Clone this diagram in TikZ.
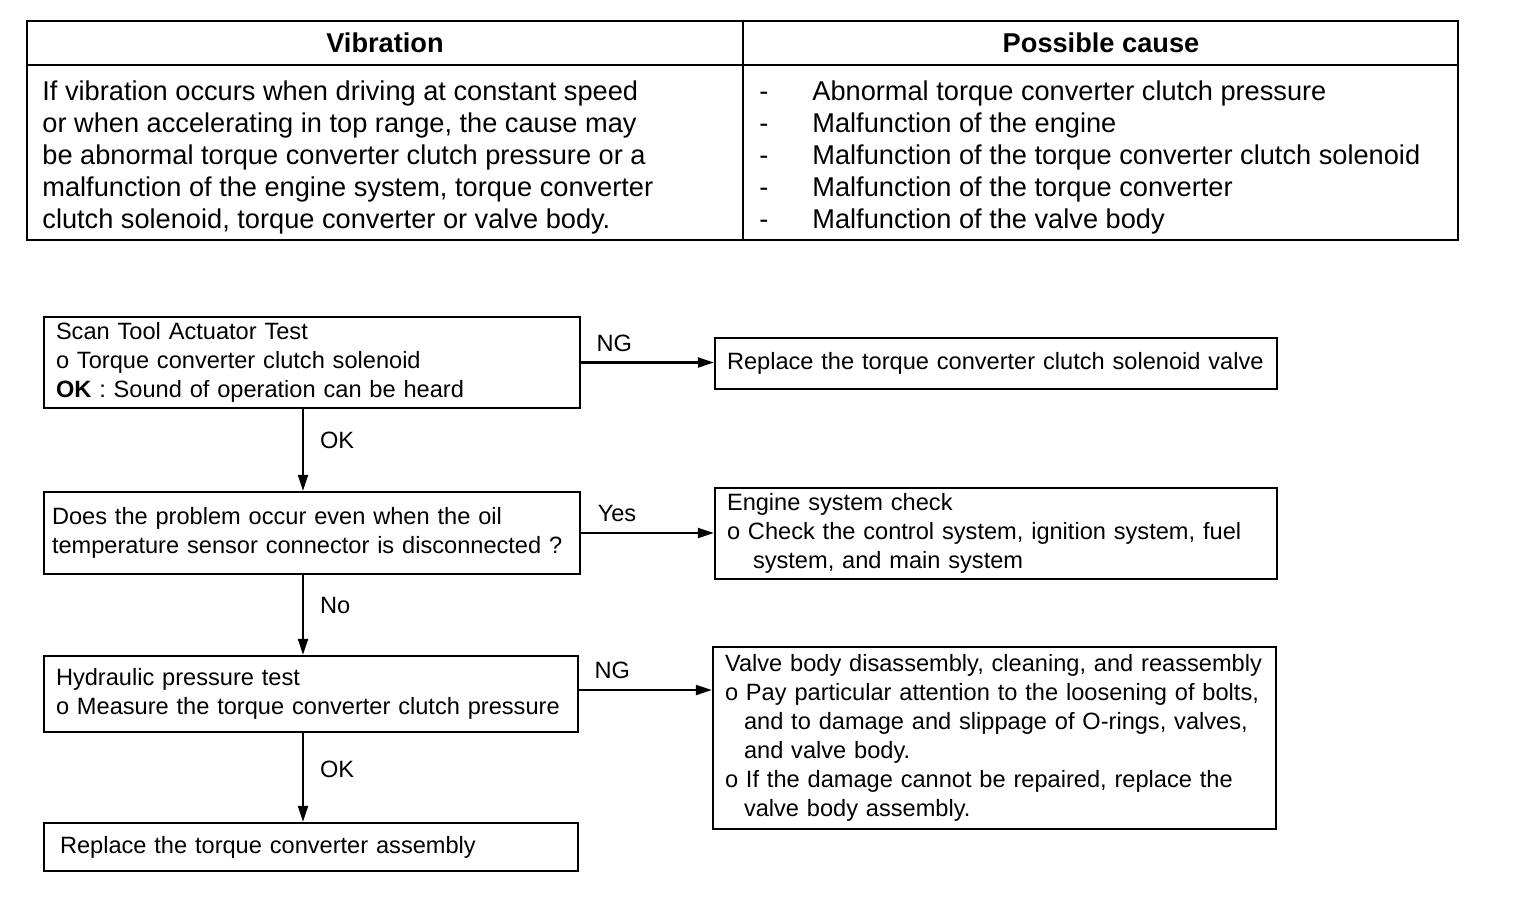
\documentclass[tikz,border=0pt]{standalone}
\usepackage{fontspec}
\setmainfont{Liberation Sans}
\usetikzlibrary{arrows.meta,calc,positioning}

\newcommand{\tabfont}{\fontsize{13.6}{16}\selectfont}
\newcommand{\flowfont}{\fontsize{11.8}{14.5}\selectfont}
\hyphenpenalty=10000
\exhyphenpenalty=10000

\begin{document}
\begin{tikzpicture}[x=0.5pt, y=-0.5pt, >={Triangle[length=8pt,width=5pt]},
  box/.style={draw, line width=1.2pt, inner xsep=5pt, inner ysep=0pt, align=left, font=\flowfont},
  flow/.style={->, line width=1.1pt},
  lbl/.style={font=\flowfont, inner sep=2pt}]
  \useasboundingbox (0,0) rectangle (1536,900);

  % table at the top
  \draw[line width=1.2pt] (27,21) rectangle (1458,240);
  \draw[line width=0.9pt] (27,65) -- (1458,65);
  \draw[line width=0.9pt] (743,21) -- (743,240);
  \node[font=\tabfont\bfseries] (hvib) at (385,43) {Vibration};
  \node[font=\tabfont\bfseries] (hcause) at (1101,43) {Possible cause};
  \node[font=\tabfont, align=left, anchor=west, inner sep=0pt] (vib) at (42,157)
    {If vibration occurs when driving at constant speed\\
     or when accelerating in top range, the cause may\\
     be abnormal torque converter clutch pressure or a\\
     malfunction of the engine system, torque converter\\
     clutch solenoid, torque converter or valve body.};
  \node[font=\tabfont, align=left, anchor=west, inner sep=0pt] (cause) at (759,157)
    {\makebox[26.5pt][l]{-}Abnormal torque converter clutch pressure\\
     \makebox[26.5pt][l]{-}Malfunction of the engine\\
     \makebox[26.5pt][l]{-}Malfunction of the torque converter clutch solenoid\\
     \makebox[26.5pt][l]{-}Malfunction of the torque converter\\
     \makebox[26.5pt][l]{-}Malfunction of the valve body};

  % left column of checks
  \node[box, inner xsep=6pt, text width=256pt, minimum height=45.5pt] (scan) at (312,362.5)
    {Scan Tool Actuator Test\\
     o Torque converter clutch solenoid\\
     \textbf{OK} : Sound of operation can be heard};
  \node[box, inner xsep=4pt, text width=260pt, minimum height=41pt] (oil) at (312,533)
    {Does the problem occur even when the oil\\
     temperature sensor connector is disconnected ?};
  \node[box, inner xsep=6pt, text width=255pt, minimum height=38pt] (hyd) at (311,694)
    {Hydraulic pressure test\\
     o Measure the torque converter clutch pressure};
  \node[box, inner xsep=8pt, text width=251pt, minimum height=24pt] (conv) at (311,847)
    {Replace the torque converter assembly};

  % right column of repairs
  \node[box, inner xsep=6pt, text width=269pt, minimum height=25.5pt] (sol) at (996,363.5)
    {Replace the torque converter clutch solenoid valve};
  \node[box, inner xsep=6pt, text width=269pt, minimum height=45.5pt] (eng) at (996,533.5)
    {Engine system check\\
     o Check the control system, ignition system, fuel\\
     \hspace*{13pt}system, and main system};
  \node[box, inner xsep=6pt, text width=269.5pt, minimum height=91pt] (valve) at (994.5,738)
    {Valve body disassembly, cleaning, and reassembly\\
     o Pay particular attention to the loosening of bolts,\\
     \hspace*{9.5pt}and to damage and slippage of O-rings, valves,\\
     \hspace*{9.5pt}and valve body.\\
     o If the damage cannot be repaired, replace the\\
     \hspace*{9.5pt}valve body assembly.};

  % connectors
  \draw[flow] (scan.east) -- (scan.east -| sol.west) node[lbl, above=3pt, pos=0.25] {NG};
  \draw[flow] (oil.east) -- (oil.east -| eng.west) node[lbl, above=3pt, pos=0.27] {Yes};
  \draw[flow] ([yshift=2pt]hyd.east) -- ([yshift=2pt]hyd.east -| valve.west) node[lbl, above=3pt, pos=0.25] {NG};

  \coordinate (d1) at ([xshift=-4.5pt]scan.south);
  \coordinate (d2) at ([xshift=-4.5pt]oil.south);
  \coordinate (d3) at ([xshift=-4pt]hyd.south);
  \draw[flow] (d1) -- (d1 |- oil.north) node[lbl, right=6pt, pos=0.38] {OK};
  \draw[flow] (d2) -- (d2 |- hyd.north) node[lbl, right=6pt, pos=0.38] {No};
  \draw[flow] (d3) -- (d3 |- conv.north) node[lbl, right=6pt, pos=0.41] {OK};
\end{tikzpicture}
\end{document}
